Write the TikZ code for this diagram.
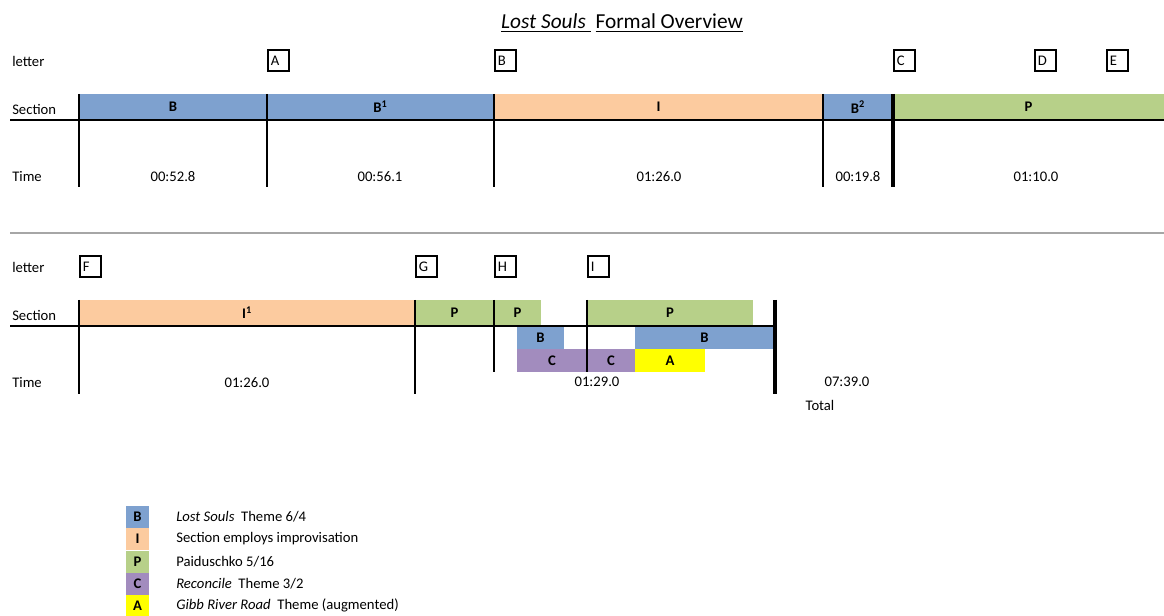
\documentclass[tikz,border=0pt]{standalone}
\usepackage{fontspec}
\setmainfont{Carlito}
\definecolor{cB}{HTML}{7EA1CF}
\definecolor{cI}{HTML}{FCCB9F}
\definecolor{cP}{HTML}{B7D089}
\definecolor{cC}{HTML}{A28CBE}
\definecolor{cA}{HTML}{FFFF00}
\definecolor{sep}{HTML}{A6A6A6}
\newcommand\sbar[7]{%
  \node[bar, fill=#6, minimum width={(#3-#2)*0.75pt}, minimum height={(#5-#4)*0.75pt}] (#1) at ({(#2+#3)/2},{(#4+#5)/2}) {#7};}
\newcommand\lbox[4]{%
  \node[lettbox, anchor=north west] (#1) at (#2,#3) {#4};}
\begin{document}
\begin{tikzpicture}[x=0.75pt,y=-0.75pt,
  font=\fontsize{11}{13}\selectfont,
  bar/.style={inner sep=0pt, outer sep=0pt, font=\fontsize{11}{13}\selectfont\bfseries},
  lettbox/.style={draw, line width=1.4pt, text width=11.6pt, align=left, inner xsep=2.2pt, inner ysep=0pt, minimum height=16pt},
  lab/.style={anchor=west, inner sep=0pt},
  vl/.style={line width=1.5pt},
  vthin/.style={line width=0.8pt},
  vthick/.style={line width=3pt},
  hl/.style={line width=1.4pt},
  legbox/.style={inner sep=0pt, minimum width=17.25pt, minimum height=16.5pt, font=\fontsize{11}{13}\selectfont\bfseries},
  legtext/.style={anchor=west, inner sep=0pt}]
\useasboundingbox (0,0) rectangle (1164,616);

% title
\node (title) at (622,23) {\fontsize{16}{19}\selectfont\underline{\textit{Lost Souls}\ }\ \underline{Formal Overview}};

% ---------- row 1 ----------
\node[lab] (letter1) at (12,61) {letter};
\node[lab] (section1) at (12,109) {Section};
\node[lab] (time1) at (12,177) {Time};

\lbox{A}{267}{49}{A}
\lbox{Bl}{494}{49}{B}
\lbox{C}{893}{49}{C}
\lbox{D}{1034}{49}{D}
\lbox{E}{1106}{49}{E}

\sbar{b1}{79}{267}{94}{120}{cB}{B}
\sbar{b2}{267}{494}{94}{120}{cB}{B\textsuperscript{1}}
\sbar{i1}{494}{823}{94}{120}{cI}{I}
\sbar{b3}{823}{893}{94}{120}{cB}{B\textsuperscript{2}}
\sbar{p1}{893}{1164}{94}{120}{cP}{P}

\draw[hl] (10,120) -- (1164,120);
\draw[vl] (79,94) -- (79,187);
\draw[vl] (267,94) -- (267,187);
\draw[vl] (494,94) -- (494,187);
\draw[vthin] (823,94) -- (823,187);
\draw[vthick] (893,94) -- (893,187);

\node (t1) at (173,177) {00:52.8};
\node (t2) at (380,177) {00:56.1};
\node (t3) at (659,177) {01:26.0};
\node (t4) at (858,177) {00:19.8};
\node (t5) at (1036,177) {01:10.0};

% separator
\draw[sep, line width=0.8pt] (10,233) -- (1164,233);

% ---------- row 2 ----------
\node[lab] (letter2) at (12,267) {letter};
\node[lab] (section2) at (12,315) {Section};
\node[lab] (time2) at (12,383) {Time};

\lbox{F}{79}{255}{F}
\lbox{G}{415}{255}{G}
\lbox{H}{494}{255}{H}
\lbox{I}{587}{255}{I}

\sbar{i2}{79}{415}{300}{326}{cI}{I\textsuperscript{1}}
\sbar{p2}{415}{494}{300}{326}{cP}{P}
\sbar{p3}{494}{541}{300}{326}{cP}{P}
\sbar{p4}{587}{753}{300}{326}{cP}{P}
\sbar{b4}{517}{564}{326}{349}{cB}{B}
\sbar{b5}{635}{774}{326}{349}{cB}{B}
\sbar{c1}{517}{587}{349}{372}{cC}{C}
\sbar{c2}{587}{635}{349}{372}{cC}{C}
\sbar{a1}{635}{705}{349}{372}{cA}{A}

\draw[hl] (10,326) -- (775,326);
\draw[vl] (79,300) -- (79,394);
\draw[line width=2.2pt] (415,300) -- (415,394);
\draw[vl] (494,300) -- (494,372);
\draw[vl] (587,300) -- (587,372);
\draw[line width=3.6pt] (775,300) -- (775,394);

\node (t6) at (247,383) {01:26.0};
\node (t7) at (597,382) {01:29.0};
\node (t8) at (847,382) {07:39.0};
\node (total) at (820,405) {Total};

% ---------- legend ----------
\node[legbox, fill=cB] (kB) at (137.5,517) {B};
\node[legbox, fill=cI] (kI) at (137.5,539) {I};
\node[legbox, fill=cP] (kP) at (137.5,561.5) {P};
\node[legbox, fill=cC] (kC) at (137.5,584) {C};
\node[legbox, fill=cA] (kA) at (137.5,605.5) {A};
\node[legtext] (dB) at (176,517) {\textit{Lost Souls}\ \ Theme 6/4};
\node[legtext] (dI) at (176,539) {Section employs improvisation};
\node[legtext] (dP) at (176,561.5) {Paiduschko 5/16};
\node[legtext] (dC) at (176,584) {\textit{Reconcile}\ \ Theme 3/2};
\node[legtext] (dA) at (176,605.5) {\textit{Gibb River Road}\ \ Theme (augmented)};
\end{tikzpicture}
\end{document}
